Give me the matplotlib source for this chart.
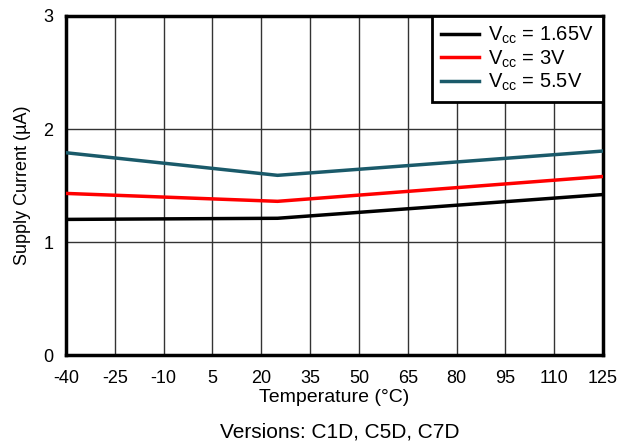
import matplotlib
matplotlib.use("Agg")
import matplotlib.pyplot as plt

plt.rcParams['font.family'] = ['Liberation Sans', 'DejaVu Sans']
plt.rcParams['mathtext.fontset'] = 'custom'
plt.rcParams['mathtext.rm'] = 'Liberation Sans'
plt.rcParams['axes.unicode_minus'] = False

temps = [-40, 25, 125]
i_165 = [1.20, 1.21, 1.42]
i_3 = [1.43, 1.36, 1.58]
i_55 = [1.79, 1.59, 1.805]
labels = [r'$\mathregular{V_{cc}}$ = 1.65V', r'$\mathregular{V_{cc}}$ = 3V', r'$\mathregular{V_{cc}}$ = 5.5V']
colors = ['#000000', '#ff0000', '#1a5a6a']
xticks = list(range(-40, 126, 15))

fig = plt.figure(figsize=(6.32, 4.43), dpi=100)
ax = fig.add_axes([0.1044, 0.1986, 0.8497, 0.7653])

for y, lab, c in zip([i_165, i_3, i_55], labels, colors):
    ax.plot(temps, y, color=c, lw=2.5, label=lab, zorder=3)

ax.set_xlim(-40, 125)
ax.set_ylim(0, 3)
ax.set_xticks(xticks)
ax.set_yticks([0, 1, 2, 3])
ax.grid(True, color='#333333', lw=1)
ax.tick_params(labelsize=13, length=0)
ax.tick_params(axis='x', pad=11)
ax.tick_params(axis='y', pad=9)
for s in ax.spines.values():
    s.set_linewidth(2.5)
ax.set_xlabel('Temperature (°C)', fontsize=14, labelpad=1)
ax.set_ylabel('Supply Current (µA)', fontsize=13, labelpad=9)

leg = ax.legend(loc='upper right', fontsize=14.5, fancybox=False, framealpha=1,
                edgecolor='black', borderaxespad=0, handlelength=1.9,
                handletextpad=0.45, labelspacing=0.1, borderpad=0.45)
leg.get_frame().set_linewidth(2)

fig.text(0.538, 0.012, 'Versions: C1D, C5D, C7D', ha='center', va='baseline', fontsize=15)

fig.savefig('out.png', dpi=100)
